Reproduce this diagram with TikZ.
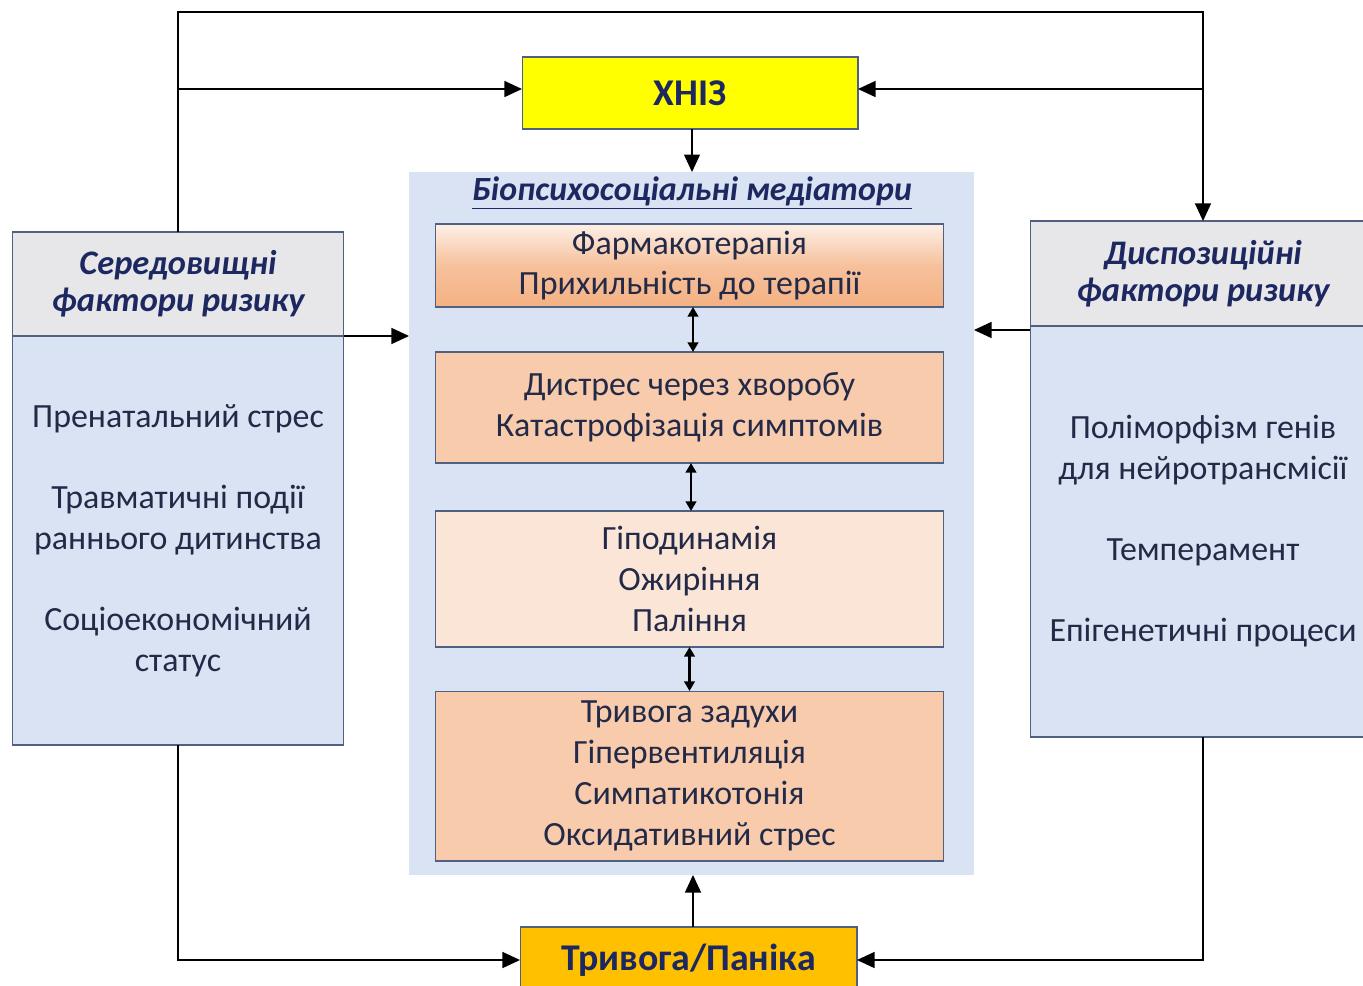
\documentclass[tikz,border=0pt]{standalone}
\usepackage{fontspec}
\setmainfont{Carlito}
\usetikzlibrary{arrows.meta}
\definecolor{medbg}{RGB}{218,227,243}
\definecolor{headgray}{RGB}{231,231,234}
\definecolor{edge}{RGB}{80,96,128}
\definecolor{peach}{RGB}{248,203,173}
\definecolor{lightpeach}{RGB}{251,229,214}
\definecolor{darkpeach}{RGB}{244,177,131}
\definecolor{khnizyellow}{RGB}{255,255,0}
\definecolor{panicorange}{RGB}{255,192,0}
\definecolor{navy}{RGB}{28,40,95}
\definecolor{bodytxt}{RGB}{35,42,72}
\tikzset{
  box/.style={draw=edge, line width=0.6pt, inner sep=0pt, outer sep=0pt, align=center,
    text=bodytxt, font=\fontsize{19.3}{23.2}\selectfont},
  headbox/.style={box, fill=headgray, text=navy, font=\fontsize{19.6}{23}\selectfont\bfseries\itshape},
  bodybox/.style={box, fill=medbg},
  keybox/.style={box, text=navy, font=\fontsize{21.5}{25}\selectfont\bfseries},
  arr/.style={line width=1.1pt, -{Triangle[length=10pt,width=9pt]}},
  dbl/.style={line width=1.6pt, {Triangle[length=5.5pt,width=6pt]}-{Triangle[length=5.5pt,width=6pt]}}
}
\begin{document}
\begin{tikzpicture}[x=0.02cm,y=-0.02cm]
\useasboundingbox (0,0) rectangle (1363,985);
% centre: mediators
\node[draw=none, fill=medbg, minimum width=11.3cm, minimum height=14.06cm, inner sep=0pt, outer sep=0pt] (med) at (691.5,523.5) {};
\node[text=navy, font=\fontsize{19.3}{23}\selectfont\bfseries\itshape] (medtitle) at (692,193) {\underline{Біопсихосоціальні медіатори}};
\node[box, top color=lightpeach!60, bottom color=darkpeach, middle color=darkpeach!80, minimum width=10.18cm, minimum height=1.66cm] (pharm) at (689.5,265.5)
  {Фармакотерапія\\Прихильність до терапії};
\node[box, fill=peach, minimum width=10.18cm, minimum height=2.22cm] (distress) at (689.5,407.5)
  {Дистрес через хворобу\\Катастрофізація симптомів};
\node[box, fill=lightpeach, minimum width=10.18cm, minimum height=2.72cm] (life) at (689.5,579)
  {Гіподинамія\\Ожиріння\\Паління};
\node[box, fill=peach, minimum width=10.18cm, minimum height=3.4cm] (somatic) at (689.5,776)
  {Тривога задухи\\Гіпервентиляція\\Симпатикотонія\\Оксидативний стрес};
% top and bottom
\node[keybox, fill=khnizyellow, minimum width=6.72cm, minimum height=1.44cm] (khniz) at (690,93) {ХНІЗ};
\node[keybox, fill=panicorange, minimum width=6.74cm, minimum height=1.32cm] (panic) at (688.5,960) {Тривога/Паніка};
% left: environment
\node[headbox, minimum width=6.64cm, minimum height=2.08cm] (envhead) at (178,284)
  {Середовищні\\[-2pt]фактори ризику};
\node[bodybox, minimum width=6.64cm, minimum height=8.18cm] (envbody) at (178,540.5)
  {Пренатальний стрес\\[23pt]Травматичні події\\раннього дитинства\\[23pt]Соціоекономічний\\статус};
% right: disposition
\node[headbox, minimum width=6.92cm, minimum height=2.1cm] (disphead) at (1203,273.5)
  {Диспозиційні\\[-2pt]фактори ризику};
\node[bodybox, minimum width=6.92cm, minimum height=8.22cm] (dispbody) at (1203,531.5)
  {Поліморфізм генів\\для нейротрансмісії\\[23pt]Темперамент\\[23pt]Епігенетичні процеси};
% connectors
\draw[arr] (envhead.north) -- ++(0,-220) -| (disphead.north);
\draw[arr] (envhead.north |- khniz.west) ++(0,-4) -- ([yshift=0.08cm]khniz.west);
\draw[arr] (disphead.north |- khniz.east) ++(0,-4) -- ([yshift=0.08cm]khniz.east);
\draw[arr] ([xshift=0.04cm]khniz.south) -- ([xshift=0.04cm]khniz.south |- med.north);
\draw[arr] (envhead.south east) -- (envhead.south east -| med.west);
\draw[arr] ([yshift=-0.08cm]disphead.south west) -- ([yshift=-0.08cm]disphead.south west -| med.east);
\draw[dbl] ([xshift=0.07cm]pharm.south) -- ([xshift=0.07cm]distress.north);
\draw[dbl] ([xshift=0.03cm]distress.south) -- ([xshift=0.03cm]life.north);
\draw[dbl] (life.south) -- (somatic.north);
\draw[arr] ([xshift=0.09cm]panic.north) -- ([xshift=0.09cm]panic.north |- med.south);
\draw[arr] (envbody.south) |- (panic.west);
\draw[arr] (dispbody.south) |- (panic.east);
\end{tikzpicture}
\end{document}
